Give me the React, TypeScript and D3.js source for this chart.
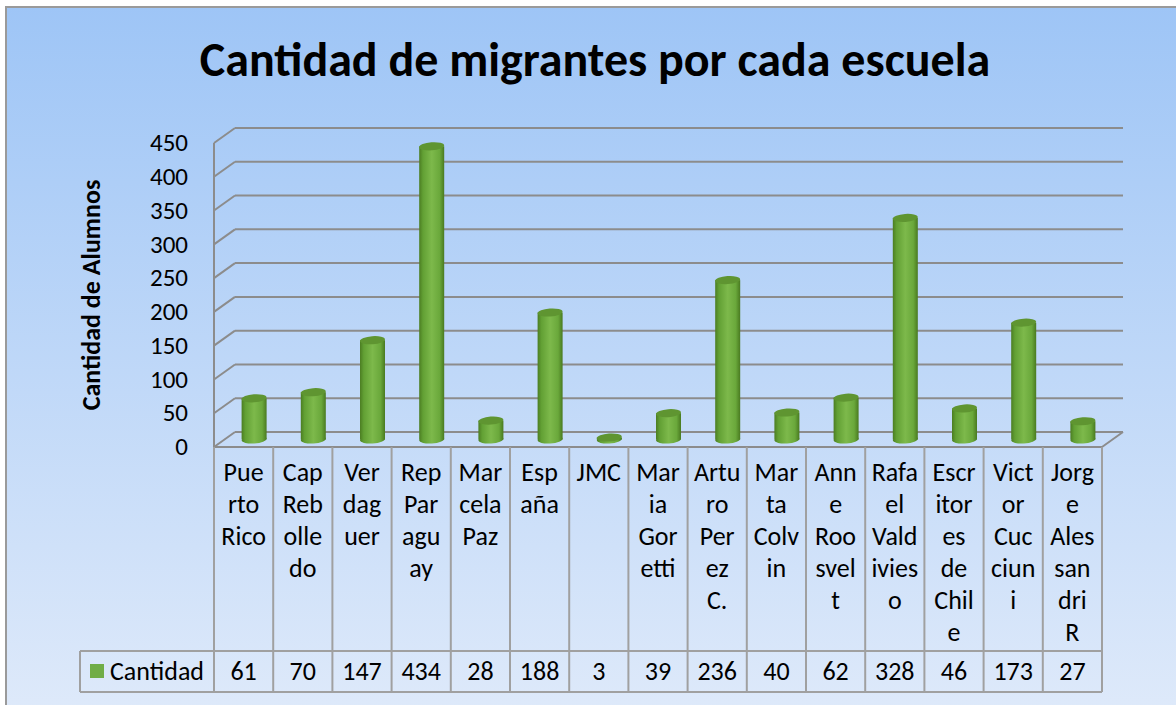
import React from 'react';
import * as d3 from 'd3';

// schools, with the label wrapping shown in the table
const categoryLines: string[][] = [
  ['Pue', 'rto', 'Rico'],
  ['Cap', 'Reb', 'olle', 'do'],
  ['Ver', 'dag', 'uer'],
  ['Rep', 'Par', 'agu', 'ay'],
  ['Mar', 'cela', 'Paz'],
  ['Esp', 'aña'],
  ['JMC'],
  ['Mar', 'ia', 'Gor', 'etti'],
  ['Artu', 'ro', 'Per', 'ez', 'C.'],
  ['Mar', 'ta', 'Colv', 'in'],
  ['Ann', 'e', 'Roo', 'svel', 't'],
  ['Rafa', 'el', 'Vald', 'ivies', 'o'],
  ['Escr', 'itor', 'es', 'de', 'Chil', 'e'],
  ['Vict', 'or', 'Cuc', 'ciun', 'i'],
  ['Jorg', 'e', 'Ales', 'san', 'dri', 'R'],
];
const cantidad: number[] = [61, 70, 147, 434, 28, 188, 3, 39, 236, 40, 62, 328, 46, 173, 27];
const yTicks: number[] = [0, 50, 100, 150, 200, 250, 300, 350, 400, 450];

const W = 1176;
const H = 705;
const FONT = 'Carlito, Lato, "Open Sans", sans-serif';
const FS = 25;
const FS_TABLE = 26;

// plot geometry: front plane + depth offset
const x0 = 214;
const x1 = 1102;
const yBottom = 447;
const yTop = 143;
const depthX = 21;
const depthY = -15;
const tableBottom = 692;
const rowTop = 651;
const legendLeft = 80;

const App: React.FC = () => {
  const keys = categoryLines.map((_, i) => String(i));
  const x = d3.scaleBand<string>().domain(keys).range([x0, x1]);
  const yFront = d3.scaleLinear().domain([0, 450]).range([yBottom, yTop]);
  const yBack = d3.scaleLinear().domain([0, 450]).range([yBottom + depthY, yTop + depthY]);
  const yMid = d3.scaleLinear().domain([0, 450]).range([yBottom + depthY / 2, yTop + depthY / 2]);

  const grid = '#8c8c8c';
  const tableLine = '#a0a0a0';
  const rx = 12.5;
  const ry = 4;

  return (
    <svg width={W} height={H} style={{ display: 'block' }}>
      <style>{`body{margin:0}`}</style>
      <defs>
        <linearGradient id="bg" x1="0" y1="0" x2="0" y2="1">
          <stop offset="0%" stopColor="#9ec5f6" />
          <stop offset="100%" stopColor="#dfeafa" />
        </linearGradient>
        <linearGradient id="cyl" x1="0" y1="0" x2="1" y2="0">
          <stop offset="0%" stopColor="#4b7d22" />
          <stop offset="15%" stopColor="#62a034" />
          <stop offset="50%" stopColor="#7db94b" />
          <stop offset="82%" stopColor="#6aa83b" />
          <stop offset="100%" stopColor="#497a20" />
        </linearGradient>
      </defs>

      <rect x={6} y={7} width={W + 10} height={H + 10} fill="url(#bg)" stroke="#9a9a9a" strokeWidth={2} />

      <text x={595} y={76} textAnchor="middle" fontFamily={FONT} fontWeight="bold" fontSize={48} fill="#000">
        Cantidad de migrantes por cada escuela
      </text>

      <text
        transform={`translate(100, 295) rotate(-90)`}
        textAnchor="middle"
        fontFamily={FONT}
        fontWeight="bold"
        fontSize={26}
        fill="#000"
      >
        Cantidad de Alumnos
      </text>

      {/* walls: back gridlines + side diagonals */}
      {yTicks.map((t) => (
        <g key={t}>
          <line x1={x0 + depthX} x2={x1 + depthX} y1={yBack(t)} y2={yBack(t)} stroke={grid} strokeWidth={2} />
          <line x1={x0} x2={x0 + depthX} y1={yFront(t)} y2={yBack(t)} stroke={grid} strokeWidth={2} />
          <text x={188} y={yFront(t)} dy="0.33em" textAnchor="end" fontFamily={FONT} fontSize={FS} fill="#000">
            {t}
          </text>
        </g>
      ))}
      <line x1={x0} x2={x0} y1={yTop} y2={yBottom} stroke={grid} strokeWidth={2} />
      <line x1={x1} x2={x1 + depthX} y1={yBottom} y2={yBottom + depthY} stroke={grid} strokeWidth={2} />
      <line x1={x0} x2={x1} y1={yBottom} y2={yBottom} stroke={grid} strokeWidth={2} />

      {/* cylinders */}
      {cantidad.map((v, i) => {
        const cx = (x(String(i)) as number) + x.bandwidth() / 2 + depthX / 2;
        const yb = yMid(0);
        const yt = yMid(v);
        return (
          <g key={i}>
            <ellipse cx={cx} cy={yb} rx={rx} ry={ry} fill="url(#cyl)" transform={`rotate(-4 ${cx} ${yb})`} />
            <rect x={cx - rx} y={yt} width={rx * 2} height={yb - yt} fill="url(#cyl)" />
            <ellipse cx={cx} cy={yt} rx={rx} ry={ry} fill="#5f9531" transform={`rotate(-4 ${cx} ${yt})`} />
          </g>
        );
      })}

      {/* data table */}
      {categoryLines.map((lines, i) => {
        const bx = x(String(i)) as number;
        const cx = bx + x.bandwidth() / 2;
        return (
          <g key={i}>
            <line x1={bx} x2={bx} y1={yBottom} y2={tableBottom} stroke={tableLine} strokeWidth={2} />
            {lines.map((s, j) => (
              <text key={j} x={cx} y={481 + j * 32} textAnchor="middle" fontFamily={FONT} fontSize={FS_TABLE} fill="#000">
                {s}
              </text>
            ))}
            <text x={cx} y={680} textAnchor="middle" fontFamily={FONT} fontSize={FS_TABLE} fill="#000">
              {cantidad[i]}
            </text>
          </g>
        );
      })}
      <line x1={x1} x2={x1} y1={yBottom} y2={tableBottom} stroke={tableLine} strokeWidth={2} />
      <line x1={legendLeft} x2={legendLeft} y1={rowTop} y2={tableBottom} stroke={tableLine} strokeWidth={2} />
      <line x1={legendLeft} x2={x1} y1={rowTop} y2={rowTop} stroke={tableLine} strokeWidth={2} />
      <line x1={legendLeft} x2={x1} y1={tableBottom} y2={tableBottom} stroke={tableLine} strokeWidth={2} />
      <rect x={90} y={664} width={14} height={14} fill="#70ad47" />
      <text x={110} y={680} fontFamily={FONT} fontSize={FS_TABLE} fill="#000">
        Cantidad
      </text>
    </svg>
  );
};

export default App;
